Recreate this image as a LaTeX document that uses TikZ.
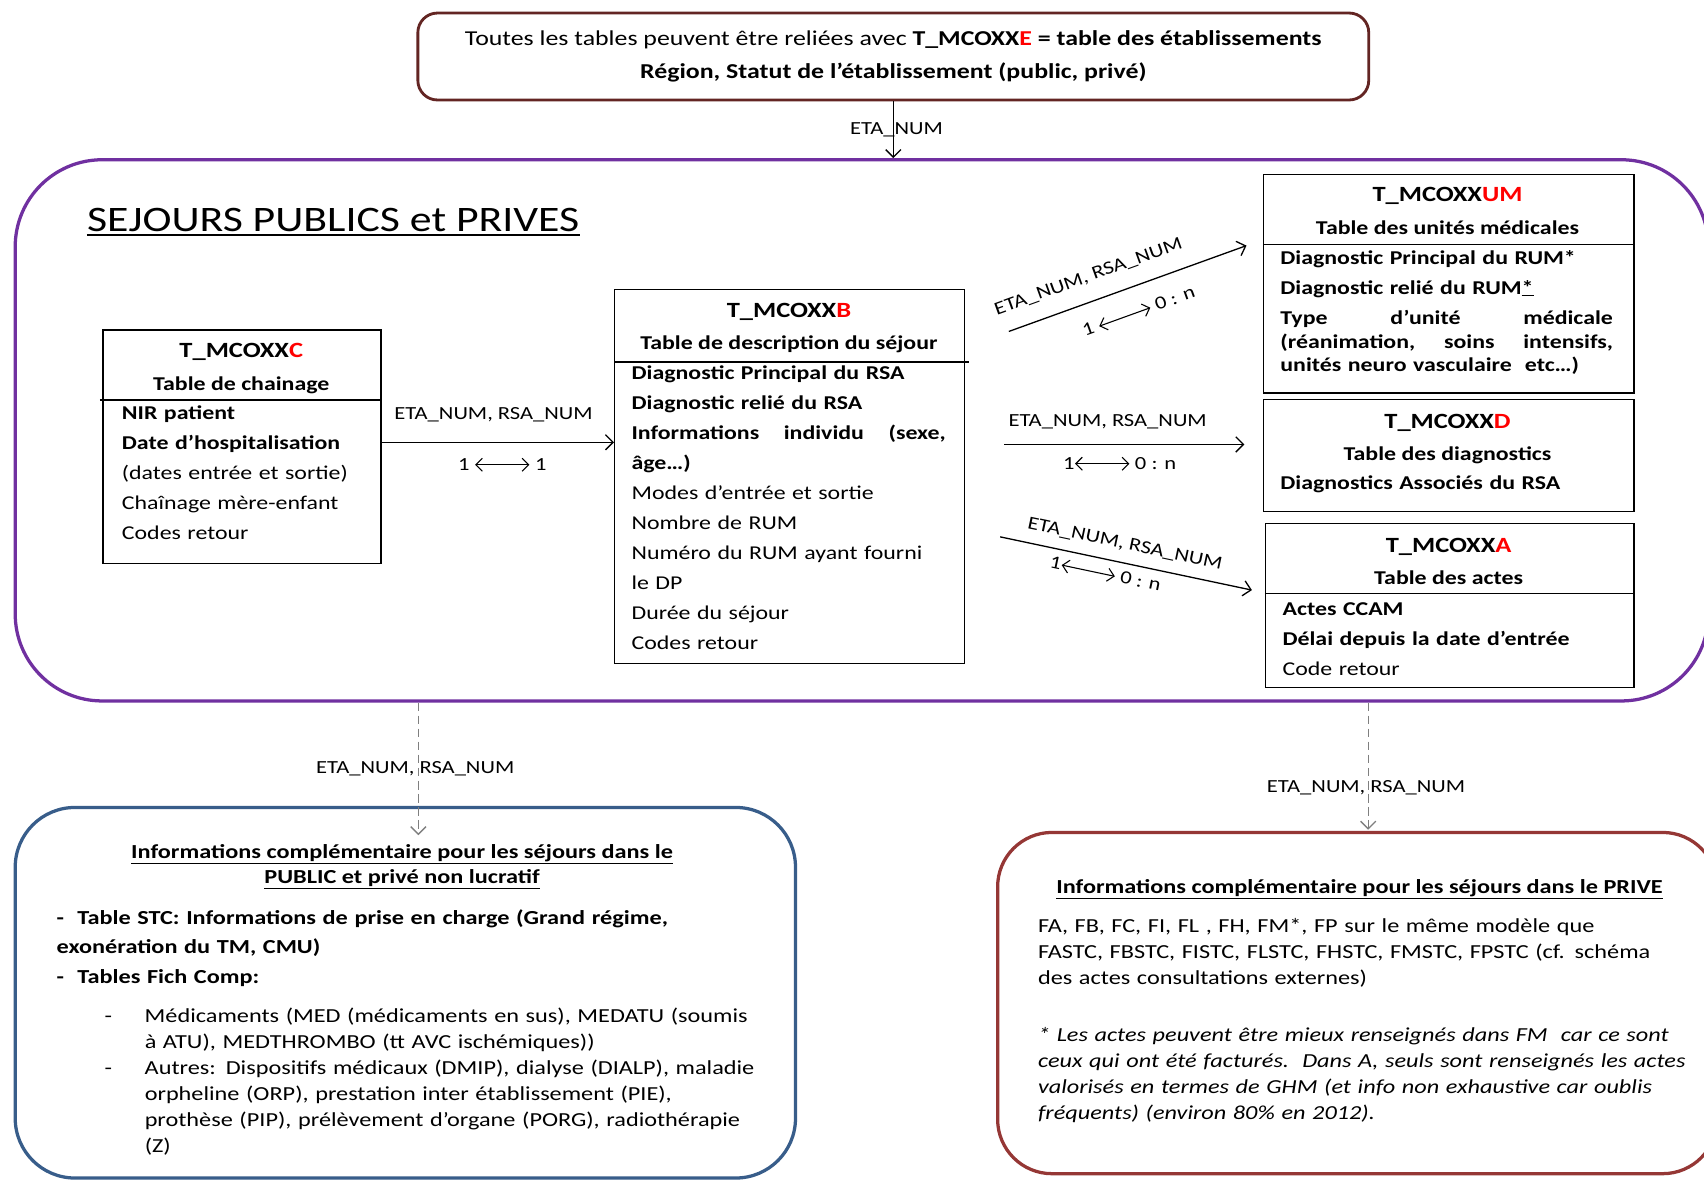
\documentclass[tikz,border=0pt]{standalone}
\usepackage{fontspec}
\setmainfont{Carlito}[FakeStretch=1.22]
\usepackage{tikz}
\usetikzlibrary{arrows.meta, positioning, calc}
\definecolor{etabred}{RGB}{99, 37, 35}
\definecolor{sejpurple}{RGB}{112, 48, 160}
\definecolor{pubblue}{RGB}{56, 93, 138}
\definecolor{privred}{RGB}{149, 55, 53}
\definecolor{linkgray}{RGB}{127, 127, 127}
\newcommand{\tabname}[1]{T\_MCOXX\textcolor{red}{#1}}
\newcommand{\dblarrow}{\tikz[x=1pt, baseline=-0.6ex]\draw[{Straight Barb[length=6pt, width=12pt]}-{Straight Barb[length=6pt, width=12pt]}, line width=1pt] (0,0) -- (50,0);}

\begin{document}
\begin{tikzpicture}[
        x=1pt, y=-1pt,
        tbl/.style={draw, line width=1.3pt, anchor=north west, inner sep=0pt},
        tname/.style={anchor=base, inner sep=0pt, font=\bfseries\fontsize{20}{24}\selectfont},
        ttitle/.style={anchor=base, inner sep=0pt, font=\bfseries\fontsize{18}{22}\selectfont},
        tbody/.style={anchor=north west, align=left, inner sep=0pt, font=\fontsize{18}{27.6}\selectfont},
        infotext/.style={anchor=north west, align=left, inner sep=0pt, font=\fontsize{18.3}{24}\selectfont},
        lbl/.style={inner sep=1pt, font=\fontsize{17}{20}\selectfont},
        arrow/.style={->, line width=1.2pt, >={Straight Barb[length=7pt, width=14pt]}},
        dasharrow/.style={->, line width=1.2pt, draw=linkgray, dash pattern=on 8pt off 4pt, >={Straight Barb[length=7pt, width=14pt]}}
    ]
        % Page
        \fill[white] (0,0) rectangle (1568,1086);
        \useasboundingbox (0,0) rectangle (1568,1086);
        \clip (0,0) rectangle (1568,1086);

        % Table des etablissements
        \node[draw=etabred, line width=2.6pt, rounded corners=18pt, minimum width=875pt, minimum height=80pt, align=center, font=\fontsize{19.5}{31}\selectfont] (etab) at (822,52) {
            Toutes les tables peuvent être reliées avec \textbf{\tabname{E} = table des établissements}\\
            \textbf{Région, Statut de l’établissement (public, privé)}
        };

        % Sejours
        \node[draw=sejpurple, line width=3pt, rounded corners=80pt, minimum width=1558pt, minimum height=498pt] (sej) at (793,396) {};
        \node[anchor=west, inner sep=0pt, font=\fontsize{33}{40}\selectfont] (sejt) at (80,202) {SEJOURS PUBLICS et PRIVES};
        \draw[line width=2pt] ([yshift=-4pt]sejt.base west) -- ([yshift=-4pt]sejt.base east);

        % Table de chainage
        \node[tbl, minimum width=256pt, minimum height=215pt] (chain) at (94,303) {};
        \node[tname] (chainn) at (222,329) {\tabname{C}};
        \node[ttitle] (chaint) at (222,359) {Table de chainage};
        \draw[line width=1.3pt] ($(chain.west |- 0,368)+(-2,0)$) -- (chain.east |- 0,368);
        \node[tbody, text width=230pt] (chainb) at (112,373) {
            \textbf{NIR patient}\\
            \textbf{Date d’hospitalisation}\\
            (dates entrée et sortie)\\
            Chaînage mère-enfant\\
            Codes retour
        };

        % Table de description du sejour
        \node[tbl, minimum width=322pt, minimum height=344pt] (desc) at (565,266) {};
        \node[tname] (descn) at (726,292) {\tabname{B}};
        \node[ttitle] (desct) at (726,322) {Table de description du séjour};
        \draw[line width=1.3pt] (desc.west |- 0,333) -- ($(desc.east |- 0,333)+(3,0)$);
        \node[tbody, text width=289pt] (descb) at (581,336) {
            \textbf{Diagnostic Principal du RSA}\\
            \textbf{Diagnostic relié du RSA}\\
            \textbf{Informations\hfill individu\hfill (sexe,}\\
            \textbf{âge…)}\\
            Modes d’entrée et sortie\\
            Nombre de RUM\\
            Numéro du RUM ayant fourni\\
            le DP\\
            Durée du séjour\\
            Codes retour
        };

        % Table des unites medicales
        \node[tbl, minimum width=341pt, minimum height=201pt] (um) at (1162,160) {};
        \node[tname] (umn) at (1332,185) {\tabname{UM}};
        \node[ttitle] (umt) at (1332,216) {Table des unités médicales};
        \draw[line width=1.3pt] (um.west |- 0,225) -- (um.east |- 0,225);
        \node[tbody, text width=306pt] (umb) at (1178,230) {
            \textbf{Diagnostic Principal du RUM*}\\
            \textbf{Diagnostic relié du RUM\underline{*}}\\
            \textbf{Type\hfill d’unité\hfill médicale}\\[-5.6pt]
            \textbf{(réanimation,\hfill soins\hfill intensifs,}\\[-5.6pt]
            \textbf{unités neuro vasculaire\ \ etc…)}
        };

        % Table des diagnostics
        \node[tbl, minimum width=341pt, minimum height=103pt] (diag) at (1162,367) {};
        \node[tname] (diagn) at (1332,394) {\tabname{D}};
        \node[ttitle] (diagt) at (1332,424) {Table des diagnostics};
        \node[tbody, text width=306pt] (diagb) at (1178,438) {
            \textbf{Diagnostics Associés du RSA}
        };

        % Table des actes
        \node[tbl, minimum width=339pt, minimum height=151pt] (actes) at (1164,481) {};
        \node[tname] (actesn) at (1333,508) {\tabname{A}};
        \node[ttitle] (actest) at (1333,538) {Table des actes};
        \draw[line width=1.3pt] (actes.west |- 0,546) -- (actes.east |- 0,546);
        \node[tbody, text width=306pt] (actesb) at (1180,554) {
            \textbf{Actes CCAM}\\
            \textbf{Délai depuis la date d’entrée}\\
            Code retour
        };

        % Informations complementaires (public)
        \node[draw=pubblue, line width=3pt, rounded corners=55pt, minimum width=718pt, minimum height=341pt] (pub) at (373,913.5) {};
        \node[anchor=north, align=center, inner sep=0pt, font=\bfseries\fontsize{18.3}{23}\selectfont] (pubt) at (370,777) {
            \underline{Informations complémentaire pour les séjours dans le}\\
            \underline{PUBLIC et privé non lucratif}
        };
        \node[infotext, text width=660pt] (pubb) at (52,837) {
            \textbf{-\ \ Table STC: Informations de prise en charge (Grand régime,}\\[3pt]
            \textbf{exonération du TM, CMU)}\\[3pt]
            \textbf{-\ \ Tables Fich Comp:}\\[12pt]
            \makebox[81pt][l]{\hspace*{44pt}-}Médicaments (MED (médicaments en sus), MEDATU (soumis\\
            \hspace*{81pt}à ATU), MEDTHROMBO (tt AVC ischémiques))\\
            \makebox[81pt][l]{\hspace*{44pt}-}Autres: Dispositifs médicaux (DMIP), dialyse (DIALP), maladie\\
            \hspace*{81pt}orpheline (ORP), prestation inter établissement (PIE),\\
            \hspace*{81pt}prothèse (PIP), prélèvement d’organe (PORG), radiothérapie\\
            \hspace*{81pt}(Z)
        };

        % Informations complementaires (prive)
        \node[draw=privred, line width=3pt, rounded corners=50pt, minimum width=662pt, minimum height=314pt] (priv) at (1249,923) {};
        \node[anchor=base, inner sep=0pt, font=\bfseries\fontsize{18.3}{23}\selectfont] (privt) at (1251,822) {
            \underline{Informations complémentaire pour les séjours dans le PRIVE}
        };
        \node[infotext, text width=600pt] (privb) at (955,845) {
            FA, FB, FC, FI, FL , FH, FM*, FP sur le même modèle que\\
            FASTC, FBSTC, FISTC, FLSTC, FHSTC, FMSTC, FPSTC (cf. schéma\\
            des actes consultations externes)\\[28pt]
            \textit{* Les actes peuvent être mieux renseignés dans FM\ \ car ce sont}\\
            \textit{ceux qui ont été facturés.\ \ Dans A, seuls sont renseignés les actes}\\
            \textit{valorisés en termes de GHM (et info non exhaustive car oublis}\\
            \textit{fréquents) (environ 80\% en 2012).}
        };

        % Arrow ends
        \coordinate (umfrom) at ($(desc.east |- 0,305)+(40,0)$);
        \coordinate (umto) at ($(um.west |- 0,226)+(-15,0)$);
        \coordinate (diagfrom) at ($(desc.east |- 0,409)+(36,0)$);
        \coordinate (diagto) at ($(diag.west |- 0,409)+(-17,0)$);
        \coordinate (actesfrom) at ($(desc.east |- 0,494)+(32,0)$);
        \coordinate (actesto) at ($(actes.west |- 0,543)+(-12,0)$);

        % Arrows
        \draw[arrow] (etab.south) -- (etab.south |- sej.north)
            node[lbl, midway, xshift=3pt] {ETA\_NUM};

        \draw[arrow] (chain.east |- 0,407) -- (desc.west |- 0,407)
            node[lbl, midway, above=17pt, xshift=-4pt] {ETA\_NUM, RSA\_NUM}
            node[lbl, midway, below=13pt, xshift=4pt] {1 \dblarrow{} 1};

        \draw[arrow] (umfrom) -- (umto)
            node[lbl, pos=0.37, sloped, above=14pt] {ETA\_NUM, RSA\_NUM}
            node[lbl, pos=0.51, sloped, below=16pt] {1 \dblarrow{} 0 : n};

        \draw[arrow] (diagfrom) -- (diagto)
            node[lbl, pos=0.43, above=13pt] {ETA\_NUM, RSA\_NUM}
            node[lbl, pos=0.48, below=10pt] {1\dblarrow{} 0 : n};

        \draw[arrow] (actesfrom) -- (actesto)
            node[lbl, pos=0.48, sloped, above=9pt] {ETA\_NUM, RSA\_NUM}
            node[lbl, pos=0.43, sloped, below=6pt] {1\dblarrow{} 0 : n};

        \draw[dasharrow] ($(pub.north |- sej.south)+(12,0)$) -- ($(pub.north)+(12,27)$)
            node[lbl, midway, xshift=-3pt] {ETA\_NUM, RSA\_NUM};

        \draw[dasharrow] ($(priv.north |- sej.south)+(10,0)$) -- ($(priv.north)+(10,-1)$)
            node[lbl, pos=0.67, xshift=-2pt] {ETA\_NUM, RSA\_NUM};
    \end{tikzpicture}
\end{document}
